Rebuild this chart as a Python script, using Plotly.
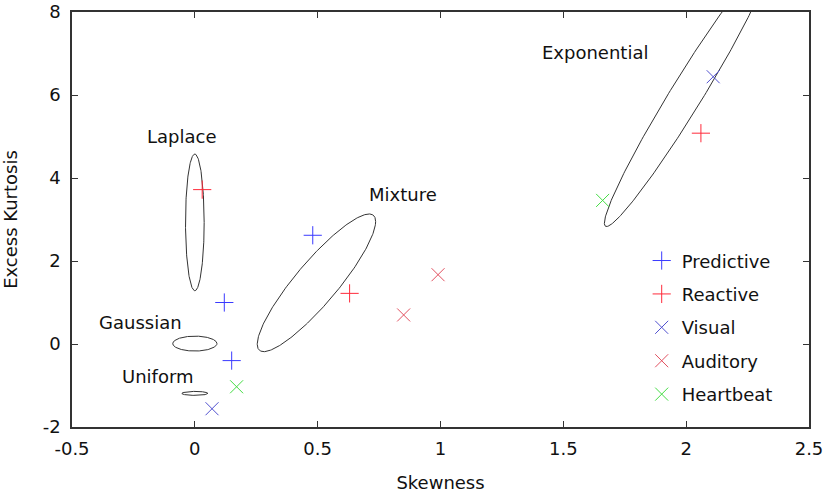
import plotly.graph_objects as go
import numpy as np

# Measured points (skewness, excess kurtosis)
predictive_x = [0.12, 0.15, 0.48]
predictive_y = [1.0, -0.4, 2.62]
reactive_x = [0.03, 0.63, 2.06]
reactive_y = [3.72, 1.22, 5.08]
visual_x = [0.07, 2.11]
visual_y = [-1.56, 6.44]
auditory_x = [0.85, 0.99]
auditory_y = [0.70, 1.67]
heartbeat_x = [0.17, 1.66]
heartbeat_y = [-1.03, 3.46]

# Reference distributions drawn as ellipses
dist_names = ["Uniform", "Gaussian", "Laplace", "Mixture", "Exponential"]
dist_cx = [0.0, 0.0, 0.0, 0.495, 2.0]
dist_cy = [-1.19, 0.01, 2.93, 1.474, 6.0]
dist_sx = [0.053, 0.09, 0.038, 0.241, 0.333]
dist_sy = [0.048, 0.18, 1.647, 1.659, 3.17]
dist_rho = [0.0, 0.0, 0.0, 0.89, 0.974]
label_x = [-0.149, -0.223, -0.052, 0.846, 1.629]
label_y = [-0.79, 0.51, 5.01, 3.61, 7.02]

# Tick labels
x_ticks = [-0.5, 0, 0.5, 1, 1.5, 2, 2.5]
x_ticktext = ["-0.5", "0", "0.5", "1", "1.5", "2", "2.5"]
y_ticks = [-2, 0, 2, 4, 6, 8]
y_ticktext = ["-2", "0", "2", "4", "6", "8"]

FONT = "DejaVu Sans"

fig = go.Figure()

# Ellipses
t = np.linspace(0, 2 * np.pi, 300)
for i in range(len(dist_names)):
    r = dist_rho[i]
    ex = dist_cx[i] + dist_sx[i] * np.cos(t)
    ey = dist_cy[i] + dist_sy[i] * (r * np.cos(t) + np.sqrt(1 - r * r) * np.sin(t))
    fig.add_trace(go.Scatter(
        x=ex, y=ey, mode='lines',
        line=dict(color='#333333', width=1),
        showlegend=False, hoverinfo='skip'
    ))
    fig.add_annotation(
        x=label_x[i], y=label_y[i], text=dist_names[i],
        showarrow=False, font=dict(family=FONT, size=18, color='#111111')
    )

series = [
    ("Predictive", predictive_x, predictive_y, 'cross-thin', '#3a3aff'),
    ("Reactive", reactive_x, reactive_y, 'cross-thin', '#ff2a3a'),
    ("Visual", visual_x, visual_y, 'x-thin', '#5050d0'),
    ("Auditory", auditory_x, auditory_y, 'x-thin', '#e2505f'),
    ("Heartbeat", heartbeat_x, heartbeat_y, 'x-thin', '#44dd44'),
]

for name, xs, ys, sym, col in series:
    fig.add_trace(go.Scatter(
        x=xs, y=ys, mode='markers', name=name, legendgroup=name,
        marker=dict(symbol=sym, size=13, line=dict(color=col, width=1), color=col),
        cliponaxis=False
    ))

axis_common = dict(
    showgrid=False, zeroline=False, showline=True, linecolor='#333333', linewidth=1.5,
    mirror='ticks', ticks='inside', ticklen=6, tickwidth=1, tickcolor='#333333',
    tickfont=dict(family=FONT, size=18, color='#111111'), automargin=False,
    ticklabeloverflow='allow',
)

fig.update_layout(
    width=830, height=496,
    margin=dict(l=72, r=21, t=12, b=69),
    plot_bgcolor='white', paper_bgcolor='white',
    font=dict(family=FONT, size=18, color='#111111'),
    xaxis=dict(range=[-0.5, 2.5], tickvals=x_ticks, ticktext=x_ticktext,
               ticklabelstandoff=5,
               title=dict(text='Skewness', font=dict(family=FONT, size=18), standoff=18),
               **axis_common),
    yaxis=dict(range=[-2, 8], tickvals=y_ticks, ticktext=y_ticktext,
               ticklabelstandoff=6,
               title=dict(text='Excess Kurtosis', font=dict(family=FONT, size=18), standoff=22),
               **axis_common),
    legend=dict(x=0.773, y=0.445, xanchor='left', yanchor='top',
                bgcolor='rgba(0,0,0,0)', tracegroupgap=7,
                font=dict(family=FONT, size=18, color='#111111')),
)

# drop the default 8px page margin so the figure sits at the window's corner
fig.write_html("out.html", config={'displayModeBar': False},
               post_script="document.body.style.margin='0px';")
